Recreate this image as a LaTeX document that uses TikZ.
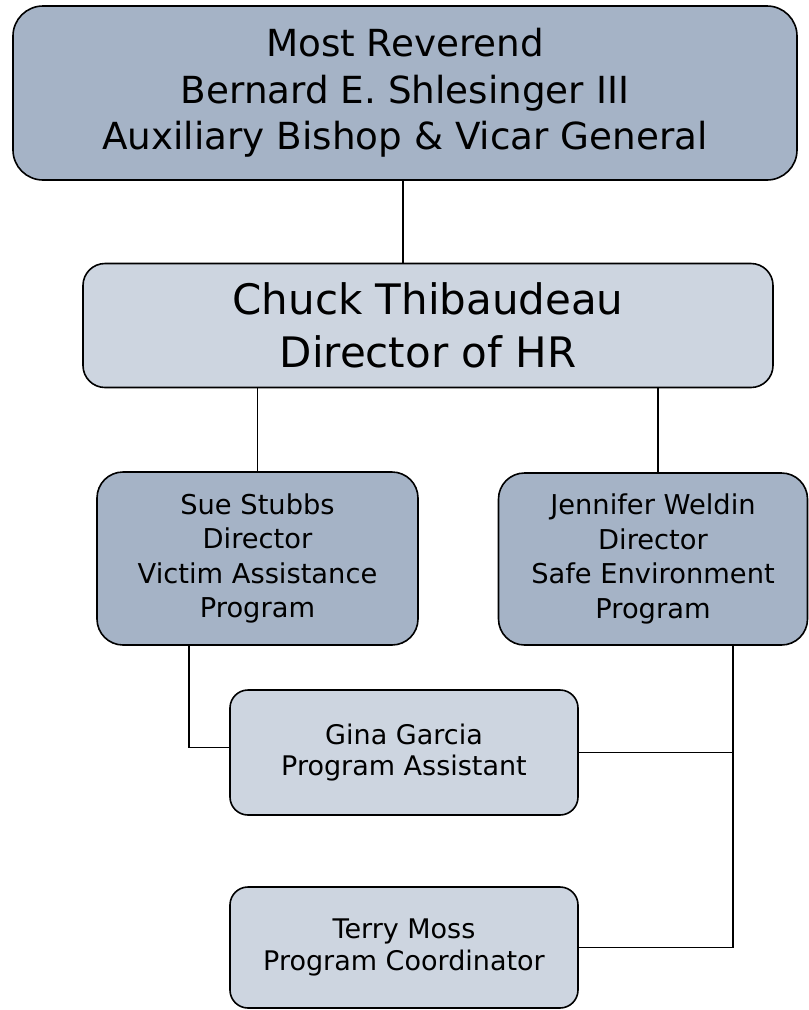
\documentclass[tikz,border=0pt]{standalone}
\usepackage{fontspec}
\setmainfont{DejaVu Sans}
\usepackage{tikz}
\definecolor{boxdark}{HTML}{A5B3C6}
\definecolor{boxlight}{HTML}{CDD5E0}

\begin{document}
\begin{tikzpicture}[x=1pt,y=-1pt,
    box/.style={draw=black,line width=1.6pt,rectangle,inner sep=0pt,align=center},
    darkbox/.style={box,fill=boxdark},
    lightbox/.style={box,fill=boxlight},
    link/.style={draw=black,line width=1.5pt}]
          \useasboundingbox (0,0) rectangle (809,1010);
          \node [darkbox, rounded corners=30pt, minimum width=784pt, minimum height=174pt,
                 font=\fontsize{37.3}{46.5}\selectfont] (TOP) at (405, 93)
                {Most Reverend\\Bernard E. Shlesinger III\\Auxiliary Bishop \& Vicar General};
          \node [lightbox, rounded corners=22pt, minimum width=690pt, minimum height=124pt,
                 font=\fontsize{42}{53}\selectfont] (HR) at (428, 325.5)
                {Chuck Thibaudeau\\Director of HR};
          \node [darkbox, rounded corners=26pt, minimum width=321pt, minimum height=173pt,
                 font=\fontsize{27.3}{34.5}\selectfont] (VA) at (257.5, 558.5)
                {Sue Stubbs\\Director\\Victim Assistance\\Program};
          \node [darkbox, rounded corners=26pt, minimum width=309pt, minimum height=172pt,
                 font=\fontsize{27.3}{34.5}\selectfont] (SE) at (653, 559)
                {Jennifer Weldin\\Director\\Safe Environment\\Program};
          \node [lightbox, rounded corners=18pt, minimum width=348pt, minimum height=125pt,
                 font=\fontsize{27}{31.5}\selectfont] (PA) at (404, 752.5)
                {Gina Garcia\\Program Assistant};
          \node [lightbox, rounded corners=18pt, minimum width=348pt, minimum height=121pt,
                 font=\fontsize{27}{32}\selectfont] (PC) at (404, 947.5)
                {Terry Moss\\Program Coordinator};
          \coordinate (SEdrop) at ([xshift=80pt]SE.south);
          \draw [link] ([xshift=-2pt]TOP.south) -- ([xshift=-2pt]TOP.south |- HR.north);
          \draw [link] (VA.north) -- (VA.north |- HR.south);
          \draw [link] ([xshift=5pt]SE.north) -- ([xshift=5pt]SE.north |- HR.south);
          \draw [link] ([xshift=-68.5pt]VA.south) |- ([yshift=5pt]PA.west);
          \draw [link] (SEdrop) |- (PC.east);
          \draw [link] (PA.east) -- (PA.east -| SEdrop);
  \end{tikzpicture}
\end{document}
